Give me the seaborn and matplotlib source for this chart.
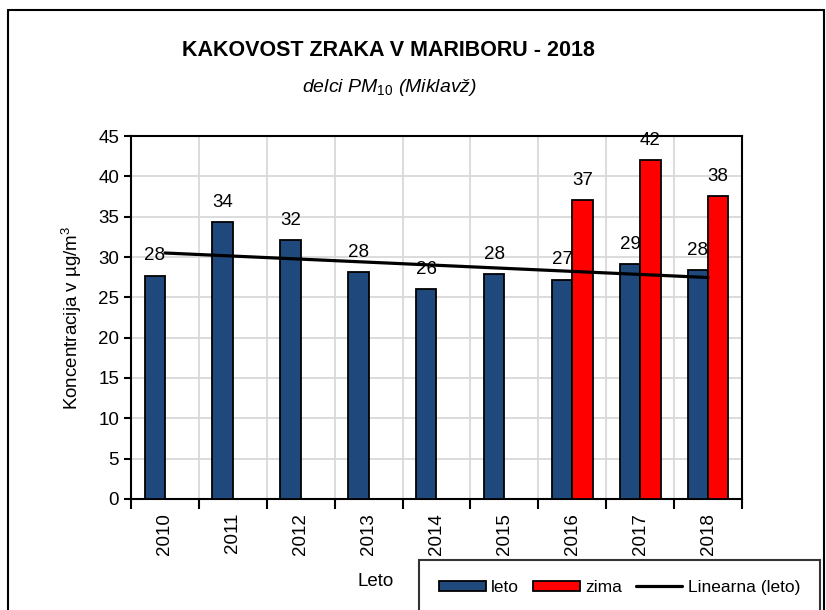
import numpy as np
import pandas as pd
import matplotlib
matplotlib.use("Agg")
import matplotlib.pyplot as plt
from matplotlib import font_manager
from matplotlib.lines import Line2D
from matplotlib.patches import Patch
import seaborn as sns

# data
years = ["2010", "2011", "2012", "2013", "2014", "2015", "2016", "2017", "2018"]
leto = [27.7, 34.3, 32.1, 28.1, 26.0, 27.9, 27.2, 29.1, 28.4]
zima = [np.nan, np.nan, np.nan, np.nan, np.nan, np.nan, 37.1, 42.0, 37.6]

# pick a narrow Arial-like face if it is there
names = {f.name for f in font_manager.fontManager.ttflist}
face = "Liberation Sans Narrow" if "Liberation Sans Narrow" in names else "Liberation Sans"

sns.set_style("white")
plt.rcParams["font.family"] = [face, "DejaVu Sans"]
plt.rcParams["mathtext.fontset"] = "custom"
plt.rcParams["mathtext.it"] = face + ":italic"
plt.rcParams["mathtext.rm"] = face
plt.rcParams["mathtext.default"] = "it"
for key in ["text.color", "axes.labelcolor", "xtick.color", "ytick.color"]:
    plt.rcParams[key] = "black"

df = pd.DataFrame({
    "leto_x": years * 2,
    "sezona": ["leto"] * len(years) + ["zima"] * len(years),
    "vrednost": leto + zima,
})

colors = {"leto": "#1F497D", "zima": "#FF0000"}

fig = plt.figure(figsize=(8.26, 6.10), dpi=100)
ax = fig.add_axes([0.1586, 0.182, 0.7397, 0.595])

sns.barplot(data=df, x="leto_x", y="vrednost", hue="sezona", hue_order=["leto", "zima"],
            palette=colors, saturation=1, width=0.6, edgecolor="black", linewidth=1.3,
            errorbar=None, legend=False, ax=ax, zorder=3)

# value labels
for cont in ax.containers:
    for bar in cont:
        h = bar.get_height()
        if np.isnan(h):
            continue
        ax.annotate(f"{h:.0f}", (bar.get_x() + bar.get_width() / 2, h),
                    xytext=(0, 8), textcoords="offset points",
                    ha="center", va="bottom", fontsize=13.5, zorder=5)

# linear trend of leto
x = np.arange(len(years))
k, n = np.polyfit(x, leto, 1)
ax.plot([x[0], x[-1]], [k * x[0] + n, k * x[-1] + n], color="black", lw=2.3, zorder=4)

ax.set_xlim(-0.5, len(years) - 0.5)
ax.set_ylim(0, 45)
ax.set_yticks(range(0, 46, 5))
ax.set_xticks(np.arange(-0.5, len(years), 1), minor=True)
ax.grid(True, which="minor", axis="x", color="#D9D9D9", lw=1.3, zorder=0)
ax.grid(True, which="major", axis="y", color="#D9D9D9", lw=1.3, zorder=0)
ax.grid(False, which="major", axis="x")
ax.set_axisbelow(True)
ax.tick_params(axis="x", which="major", length=0, labelsize=13.5, labelrotation=90, pad=10)
ax.tick_params(axis="x", which="minor", length=7, width=1.5, direction="out", color="black")
ax.tick_params(axis="y", length=5, width=1.5, direction="out", color="black", labelsize=13.5)
ax.tick_params(bottom=True, left=True, which="both")
for s in ax.spines.values():
    s.set_color("black")
    s.set_linewidth(1.5)

ax.set_xlabel("Leto", fontsize=13.5)
ax.xaxis.set_label_coords(0.4, -0.205)
ax.set_ylabel("Koncentracija v µg/m$^{3}$", fontsize=13.5, labelpad=10)

fig.text(0.47, 0.918, "KAKOVOST ZRAKA V MARIBORU - 2018", ha="center", va="center",
         fontsize=15.5, fontweight="bold")
fig.text(0.472, 0.857, "delci PM$_{10}$ (Miklavž)", ha="center", va="center",
         fontsize=14, style="italic")

handles = [Patch(facecolor=colors["leto"], edgecolor="black", lw=1.3),
           Patch(facecolor=colors["zima"], edgecolor="black", lw=1.3),
           Line2D([], [], color="black", lw=2.3)]
leg = fig.legend(handles, ["leto", "zima", "Linearna (leto)"], ncol=3,
                 loc="upper left", bbox_to_anchor=(0.507, 0.082), fontsize=12.5,
                 frameon=True, fancybox=False, edgecolor="black", borderpad=1.15,
                 handlelength=2.7, handleheight=0.55, handletextpad=0.3,
                 columnspacing=0.8, borderaxespad=0)
leg.get_frame().set_linewidth(1.5)

# outer chart frame
fig.add_artist(plt.Line2D([0.0097, 0.0097], [0, 0.984], color="black", lw=1.5,
                          transform=fig.transFigure))
fig.add_artist(plt.Line2D([0.0097, 0.998], [0.984, 0.984], color="black", lw=1.5,
                          transform=fig.transFigure))
fig.add_artist(plt.Line2D([0.998, 0.998], [0, 0.984], color="black", lw=1.5,
                          transform=fig.transFigure))

fig.savefig("out.png", dpi=100)
